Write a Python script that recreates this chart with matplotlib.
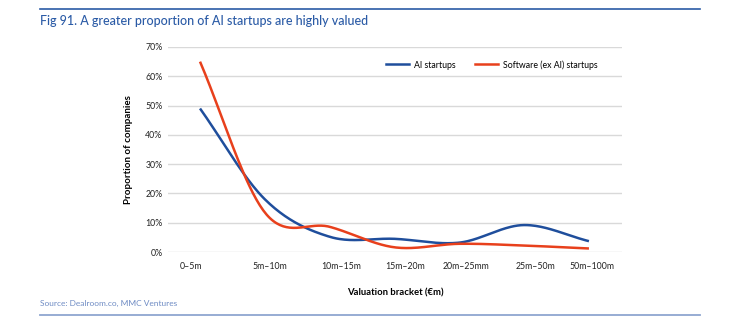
import numpy as np
import matplotlib
matplotlib.use("Agg")
import matplotlib.pyplot as plt
from matplotlib.lines import Line2D

plt.rcParams['font.family'] = ['Lato', 'DejaVu Sans']

categories = ["0–5m", "5m–10m", "10m–15m", "15m–20m", "20m–25mm", "25m–50m", "50m–100m"]
ai_startups = [49, 18, 5.2, 4.5, 3.2, 9.2, 3.7]
software_startups = [65, 13.5, 8.6, 1.6, 2.8, 2.2, 1.2]
y_ticks = [0, 10, 20, 30, 40, 50, 60, 70]
label_offsets = [-0.14, 0.08, 0.17, 0.16, 0.10, 0.17, 0.05]

BLUE = "#1F4E9C"
RED = "#E8401C"


def smooth(xs, ys, n=40):
    xs = np.asarray(xs, float)
    ys = np.asarray(ys, float)
    px = np.concatenate([[2 * xs[0] - xs[1]], xs, [2 * xs[-1] - xs[-2]]])
    py = np.concatenate([[2 * ys[0] - ys[1]], ys, [2 * ys[-1] - ys[-2]]])
    outx, outy = [], []
    for i in range(1, len(px) - 2):
        t = np.linspace(0, 1, n)
        for arr, out in ((px, outx), (py, outy)):
            p0, p1, p2, p3 = arr[i - 1], arr[i], arr[i + 1], arr[i + 2]
            out.extend(0.5 * ((2 * p1) + (-p0 + p2) * t + (2 * p0 - 5 * p1 + 4 * p2 - p3) * t ** 2
                              + (-p0 + 3 * p1 - 3 * p2 + p3) * t ** 3))
    return np.array(outx), np.array(outy)


fig = plt.figure(figsize=(7.42, 3.30), dpi=100)
ax = fig.add_axes([168 / 742, 1 - 252 / 330, (622 - 168) / 742, (252 - 47) / 330])

x = np.arange(len(categories))
sx, sy = smooth(x, ai_startups)
ax.plot(sx, sy, color=BLUE, lw=1.8, solid_capstyle='butt', zorder=3)
sx, sy = smooth(x, software_startups)
ax.plot(sx, sy, color=RED, lw=1.8, solid_capstyle='butt', zorder=3)

ax.set_xlim(-0.494, 6.51)
ax.set_ylim(0, 70)
ax.set_yticks(y_ticks)
ax.set_yticklabels([f"{v}%" for v in y_ticks], fontsize=6.3, color="#222222")
ax.set_xticks(x + np.array(label_offsets))
ax.set_xticklabels(categories, fontsize=6.3, color="#222222")
ax.tick_params(length=0, pad=4)
ax.tick_params(axis='x', pad=7)
ax.grid(axis='y', color="#D9D9D9", lw=1)
ax.set_axisbelow(True)
for s in ax.spines.values():
    s.set_visible(False)

ax.set_ylabel("Proportion of companies", fontsize=7, fontweight='bold', labelpad=9)
ax.set_xlabel("Valuation bracket (€m)", fontsize=6.8, fontweight='bold', labelpad=13)

handles = [Line2D([], [], color=BLUE, lw=1.8), Line2D([], [], color=RED, lw=1.8)]
ax.legend(handles, ["AI startups", "Software (ex AI) startups"], loc='upper left',
          bbox_to_anchor=((386 - 168) / 454, 1 - (60 - 47) / 205), ncol=2, frameon=False,
          fontsize=6.3, handlelength=2.6, columnspacing=2.2, handletextpad=0.6,
          borderaxespad=0, borderpad=0)

fig.add_artist(Line2D([40 / 742, 700 / 742], [1 - 9 / 330, 1 - 9 / 330], color="#2B5BA6", lw=1.2))
fig.text(40 / 742, 1 - 21 / 330, "Fig 91. A greater proportion of AI startups are highly valued",
         fontsize=9, color="#2B5BA6", va='center', ha='left', fontweight='medium')
fig.text(40 / 742, 1 - 303 / 330, "Source: Dealroom.co, MMC Ventures",
         fontsize=6, color="#6F8CC4", va='center', ha='left')
fig.add_artist(Line2D([40 / 742, 700 / 742], [1 - 315 / 330, 1 - 315 / 330], color="#8FA6D0", lw=1.3))

fig.savefig("out.png", dpi=100)
